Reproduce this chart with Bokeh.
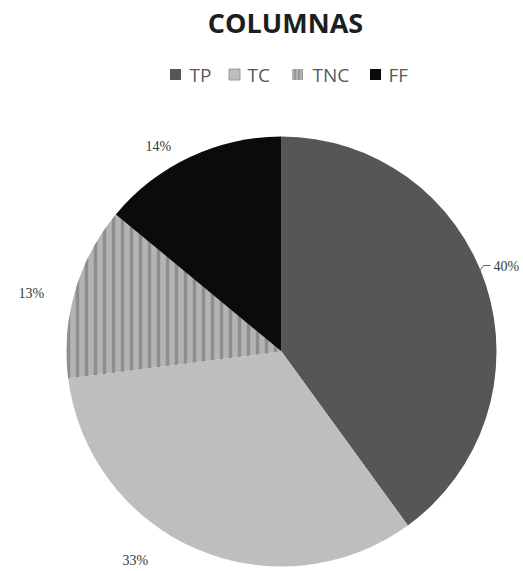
import math
from bokeh.plotting import figure
from bokeh.models import Range1d
from bokeh.core.properties import value
from bokeh.embed import file_html
from bokeh.resources import INLINE

# Chart data
categories = ["TP", "TC", "TNC", "FF"]
percents = [40, 33, 13, 14]
colors = ["#565656", "#bebebe", "#b4b4b4", "#0b0b0b"]
hatches = [" ", " ", "|", " "]
title_text = "COLUMNAS"

W, H = 523, 571
p = figure(width=W, height=H, output_backend="svg", toolbar_location=None,
           x_range=Range1d(0, W), y_range=Range1d(0, H),
           min_border=0, outline_line_color=None, background_fill_color="white")
p.axis.visible = False
p.grid.visible = False


def Y(py):
    # screen-style y (top down) to plot y
    return H - py


cx, cy, r = 281, 351, 215

total = sum(percents)
starts, ends = [], []
acc = 0.0
for v in percents:
    a0 = math.pi / 2 - 2 * math.pi * acc / total
    acc += v
    a1 = math.pi / 2 - 2 * math.pi * acc / total
    starts.append(a0)
    ends.append(a1)

for i, cat in enumerate(categories):
    p.wedge(x=cx, y=Y(cy), radius=r, start_angle=starts[i], end_angle=ends[i],
            direction="clock", fill_color=colors[i], line_color=None,
            hatch_pattern=hatches[i], hatch_color="#8e8e8e",
            hatch_scale=9, hatch_weight=3.5)

# percentage labels placed around the pie
label_pos = [(493, 266), (122, 560), (18, 293), (145, 146)]
lx = [pt[0] for pt in label_pos]
ly = [Y(pt[1]) for pt in label_pos]
p.text(x=lx, y=ly, text=[f"{v}%" for v in percents],
       text_font=value("Liberation Serif"), text_font_size="14px",
       text_color="#383838", text_align="left", text_baseline="middle")

# small leader line for the TP label
p.line(x=[478, 483, 490], y=[Y(272), Y(265), Y(265)], line_color="#606060", line_width=1)

# title
p.text(x=[285], y=[Y(22)], text=[title_text], text_font=value("Open Sans"),
       text_font_style="bold", text_font_size="27px", text_color="#1e1e1e",
       text_align="center", text_baseline="middle")

# legend row
sq_x = [175, 234, 297, 375]
tx_x = [189, 247, 312, 388]
for i, cat in enumerate(categories):
    p.rect(x=sq_x[i], y=Y(74), width=11, height=11, fill_color=colors[i],
           line_color="#9a9a9a" if i == 1 else None, line_width=1,
           hatch_pattern=hatches[i], hatch_color="#8e8e8e",
           hatch_scale=4, hatch_weight=1.5)
p.text(x=tx_x, y=[Y(74)] * 4, text=categories,
       text_font=value("Open Sans"), text_font_size="19px", text_color="#595959",
       text_align="left", text_baseline="middle")

open("out.html", "w").write(file_html(p, INLINE))
